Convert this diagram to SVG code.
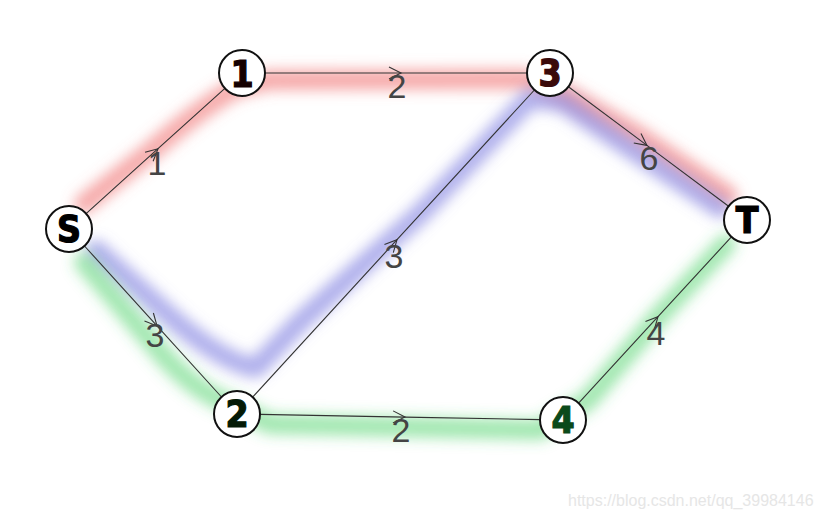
<svg xmlns="http://www.w3.org/2000/svg" width="821" height="516" viewBox="0 0 821 516">
  <defs>
    <filter id="blur" x="-30%" y="-30%" width="160%" height="160%">
      <feGaussianBlur stdDeviation="7"/>
    </filter>
    <marker id="arr" viewBox="-14 -8 16 16" markerWidth="16" markerHeight="16" refX="0" refY="0" orient="auto" markerUnits="userSpaceOnUse" overflow="visible">
      <path d="M -12,-6 L 0,0 L -12,6" fill="none" stroke="#333" stroke-width="1.1"/>
    </marker>
  </defs>
  <style>
    .hl { fill: none; stroke-width: 20; stroke-linecap: round; stroke-linejoin: round; filter: url(#blur); }
    .edge { fill: none; stroke: #333; stroke-width: 1.1; marker-mid: url(#arr); }
    .node circle { fill: #fff; stroke: #111; stroke-width: 2; }
    .node text { font-family: "DejaVu Sans Condensed", "DejaVu Sans", sans-serif; font-weight: bold; font-size: 37px; text-anchor: middle; stroke-width: 1.2; }
    .lbl { font-family: "Liberation Sans Narrow", "Liberation Sans", sans-serif; font-size: 34px; fill: #444; text-anchor: middle; }
    .wm { font-family: "Liberation Sans", Arial, sans-serif; font-size: 16px; fill: #e6e6e6; }
  </style>
  <rect width="821" height="516" fill="#fff"/>

  <g id="highlights">
    <path class="hl" stroke="#f07070" stroke-opacity="0.6" d="M 84,204 L 150,152 Q 200,108 236,88 L 268,80 L 525,79 L 566,94 L 640,137 L 728,196"/>
    <path class="hl" stroke="#7a7ae0" stroke-opacity="0.6" d="M 96,250 L 165,312 Q 220,362 256,368 L 300,322 L 420,214 L 530,98 L 562,102 L 640,155 L 720,208"/>
    <path class="hl" stroke="#40d060" stroke-opacity="0.5" d="M 84,262 L 150,340 Q 190,390 230,404 L 270,424 L 540,430 L 588,400 L 660,315 L 726,244"/>
  </g>

  <g id="edges">
    <path class="edge" d="M 86.1,213.6 L 158,148.7 L 224.9,88.4"/>
    <path class="edge" d="M 265,73 L 401,73 L 527,73"/>
    <path class="edge" d="M 568.4,86.8 L 647,145.4 L 728.6,206.2"/>
    <path class="edge" d="M 84.5,246 L 157,325.9 L 221.5,397"/>
    <path class="edge" d="M 252.6,397.1 L 397,239.7 L 534.4,90"/>
    <path class="edge" d="M 260,414.4 L 405,417.1 L 540,419.6"/>
    <path class="edge" d="M 578.6,403.1 L 658,316.7 L 731.4,236.9"/>
  </g>

  <g id="edge-labels">
    <text class="lbl" x="157" y="175">1</text>
    <text class="lbl" x="397" y="98">2</text>
    <text class="lbl" x="649" y="170">6</text>
    <text class="lbl" x="155" y="347">3</text>
    <text class="lbl" x="394" y="268">3</text>
    <text class="lbl" x="401" y="442">2</text>
    <text class="lbl" x="656" y="345">4</text>
  </g>

  <g id="node-S" class="node">
    <circle cx="69" cy="229" r="23"/>
    <text x="69" y="242" fill="#000" stroke="#000">S</text>
  </g>
  <g id="node-1" class="node">
    <circle cx="242" cy="73" r="23"/>
    <text x="242" y="87" fill="#150000" stroke="#150000">1</text>
  </g>
  <g id="node-3" class="node">
    <circle cx="550" cy="73" r="23"/>
    <text x="550" y="86" fill="#3a0a0a" stroke="#3a0a0a">3</text>
  </g>
  <g id="node-T" class="node">
    <circle cx="747" cy="220" r="23"/>
    <text x="747" y="233" fill="#000" stroke="#000">T</text>
  </g>
  <g id="node-2" class="node">
    <circle cx="237" cy="414" r="23"/>
    <text x="237" y="427" fill="#041a06" stroke="#041a06">2</text>
  </g>
  <g id="node-4" class="node">
    <circle cx="563" cy="420" r="23"/>
    <text x="563" y="433" fill="#0b4a1a" stroke="#0b4a1a">4</text>
  </g>

  <text class="wm" x="568" y="506">https://blog.csdn.net/qq_39984146</text>
</svg>
